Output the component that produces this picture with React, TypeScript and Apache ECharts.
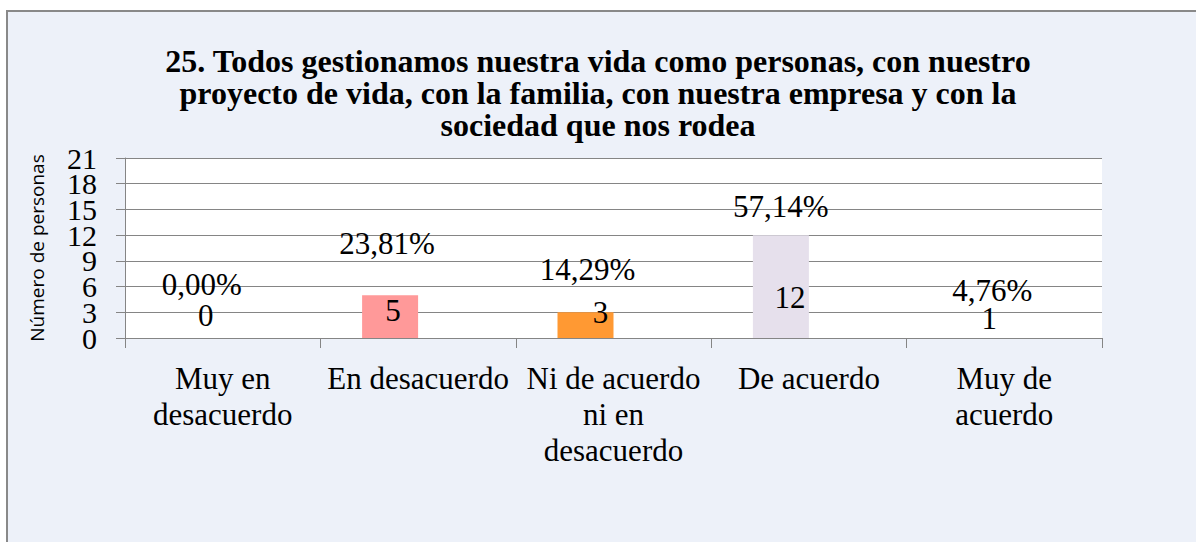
import React, { useEffect, useRef } from "react";
import * as echarts from "echarts";

const titleText =
  "25. Todos gestionamos nuestra vida como personas, con nuestro\nproyecto de vida, con la familia, con nuestra empresa y con la\nsociedad que nos rodea";
const categories = [
  "Muy en\ndesacuerdo",
  "En desacuerdo",
  "Ni de acuerdo\nni en\ndesacuerdo",
  "De acuerdo",
  "Muy de\nacuerdo",
];
const counts = [0, 5, 3, 12, 1];
const percentLabels = ["0,00%", "23,81%", "14,29%", "57,14%", "4,76%"];
const yAxisName = "Número de personas";
const yMin = 0;
const yMax = 21;
const yStep = 3;

// styling (not data)
const barColors = ["#FFFFFF", "#FF9999", "#FF9933", "#E6E0EC", "#FFFFFF"];
const countLabelOffsets = [
  [11, -2],
  [3, -7],
  [15, -5],
  [9, -20],
  [13, 1],
];
const percentLabelOffsets = [
  [7, -33],
  [-3, -31],
  [2, -22],
  [0, -8],
  [16, -18],
];

const SERIF = "Liberation Serif";
const GRID_COLOR = "#858585";

const yLabelStyle = {
  margin: 28,
  showMinLabel: true,
  showMaxLabel: true,
  fontFamily: SERIF,
  fontSize: 30,
  color: "#000000",
};

export default function App() {
  const ref = useRef<HTMLDivElement>(null);

  useEffect(() => {
    if (!ref.current) return;
    const chart = echarts.init(ref.current, null, { renderer: "svg" });
    chart.setOption({
      animation: false,
      backgroundColor: "#FFFFFF",
      graphic: [
        {
          type: "rect",
          z: -10,
          silent: true,
          shape: { x: 7, y: 11, width: 1400, height: 800 },
          style: { fill: "#EDF1F9", stroke: "#898989", lineWidth: 2 },
        },
      ],
      title: {
        text: titleText,
        left: "center",
        top: 40,
        textStyle: {
          fontFamily: SERIF,
          fontSize: 32,
          fontWeight: "bold",
          color: "#000000",
          lineHeight: 32,
        },
      },
      grid: {
        left: 125,
        right: 94,
        top: 158,
        bottom: 204,
        show: true,
        backgroundColor: "#FFFFFF",
        borderWidth: 0,
      },
      xAxis: {
        type: "category",
        data: categories,
        axisLine: { show: true, lineStyle: { color: GRID_COLOR, width: 1 } },
        axisTick: { show: true, length: 10, lineStyle: { color: GRID_COLOR } },
        axisLabel: {
          interval: 0,
          margin: 22,
          fontFamily: SERIF,
          fontSize: 31,
          lineHeight: 36,
          color: "#000000",
        },
      },
      yAxis: [
        {
          type: "value",
          position: "left",
          min: yMin,
          max: yMax,
          interval: yStep,
          name: yAxisName,
          nameLocation: "middle",
          nameRotate: 90,
          nameGap: 79,
          nameTextStyle: {
            fontFamily: "Open Sans",
            fontSize: 19,
            color: "#000000",
          },
          axisLine: { show: true, lineStyle: { color: GRID_COLOR, width: 1 } },
          axisTick: { show: true, length: 9, lineStyle: { color: GRID_COLOR } },
          axisLabel: {
            ...yLabelStyle,
            formatter: (v: number) => ((v / yStep) % 2 === 0 ? String(v) : ""),
          },
          splitLine: { show: true, lineStyle: { color: GRID_COLOR, width: 1 } },
        },
        {
          type: "value",
          position: "left",
          offset: 0,
          min: yMin,
          max: yMax,
          interval: yStep,
          axisLine: { show: false },
          axisTick: { show: false },
          splitLine: { show: false },
          axisLabel: {
            ...yLabelStyle,
            formatter: (v: number) => ((v / yStep) % 2 === 1 ? String(v) : ""),
          },
        },
      ],
      series: [
        {
          name: "Personas",
          type: "bar",
          stack: "a",
          barWidth: 56,
          barGap: "0%",
          data: counts.map((v, i) => ({
            value: v,
            itemStyle: { color: barColors[i] },
            label: { offset: countLabelOffsets[i] },
          })),
          label: {
            show: true,
            position: "insideBottom",
            fontFamily: SERIF,
            fontSize: 31,
            color: "#000000",
          },
        },
        {
          name: "Porcentaje",
          type: "bar",
          stack: "a",
          barWidth: 56,
          barGap: "0%",
          silent: true,
          itemStyle: { color: "rgba(0,0,0,0)" },
          data: counts.map((_, i) => ({
            value: 0,
            label: { offset: percentLabelOffsets[i] },
          })),
          label: {
            show: true,
            position: "top",
            formatter: (p: any) => percentLabels[p.dataIndex],
            fontFamily: SERIF,
            fontSize: 31,
            color: "#000000",
          },
        },
        {
          name: "hueco",
          type: "bar",
          stack: "b",
          barWidth: 56,
          barGap: "0%",
          silent: true,
          itemStyle: { color: "rgba(0,0,0,0)" },
          data: counts.map(() => "-"),
        },
      ],
    });
    return () => chart.dispose();
  }, []);

  return (
    <div
      ref={ref}
      style={{ position: "absolute", left: 0, top: 0, width: 1196, height: 542 }}
    />
  );
}
